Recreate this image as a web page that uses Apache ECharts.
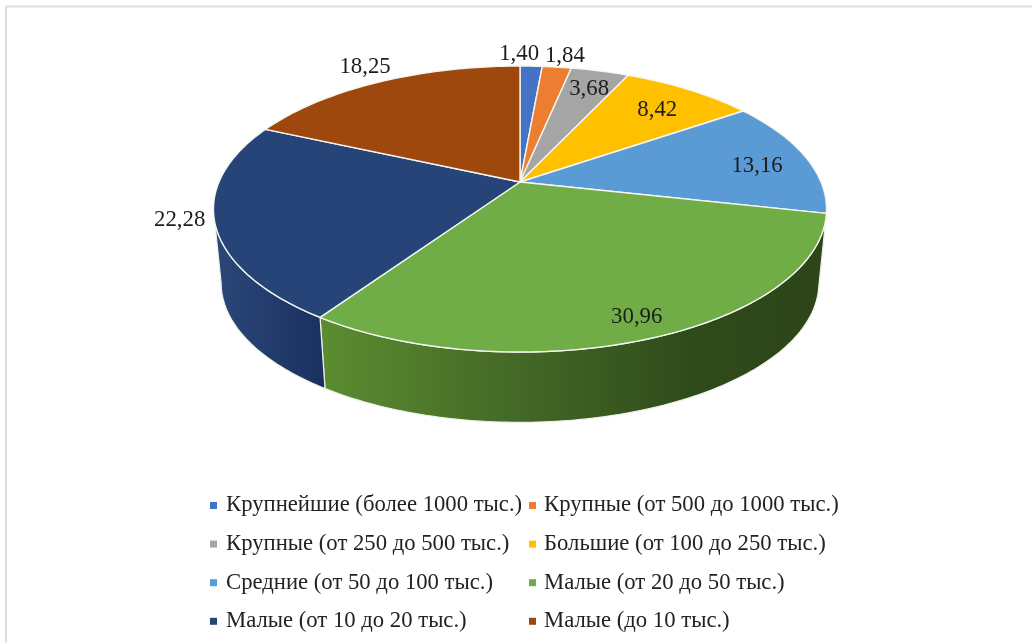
<!DOCTYPE html>
<html>
<head>
<meta charset="utf-8">
<style>html,body{margin:0;padding:0;background:#fff}#c{width:1032px;height:643px}</style>
<script src="https://cdn.jsdelivr.net/npm/echarts@6/dist/echarts.min.js"></script>
</head>
<body>
<div id="c"></div>
<script>
const categories = [
  'Крупнейшие (более 1000 тыс.)',
  'Крупные (от 500 до 1000 тыс.)',
  'Крупные (от 250 до 500 тыс.)',
  'Большие (от 100 до 250 тыс.)',
  'Средние (от 50 до 100 тыс.)',
  'Малые (от 20 до 50 тыс.)',
  'Малые (от 10 до 20 тыс.)',
  'Малые (до 10 тыс.)'
];
const values = [1.40, 1.84, 3.68, 8.42, 13.16, 30.96, 22.28, 18.25];
const labels = ['1,40', '1,84', '3,68', '8,42', '13,16', '30,96', '22,28', '18,25'];
const colors = ['#4472c4', '#ed7d31', '#a5a5a5', '#ffc000', '#5b9bd5', '#70ad47', '#264478', '#9e480e'];
// label offset from the point where each slice's bisector meets the rim
const labelShift = [[-12,-12],[8,-11],[-11,18],[-32,20],[-48,10],[-18,-20.5],[-35,-1.5],[-14,-15]];

const FONT = '"Liberation Serif", serif';
const total = values.reduce((a, b) => a + b, 0);
const D2R = Math.PI / 180;

// perspective projection of the disc: far rim is compressed, near rim stretched
const K = -0.189;
const topPlane = { cx: 520, cy: 182, ax: 301, ay: 137.9 };
const basePlane = { cx: 520, cy: 256.5, ax: 293.5, ay: 134.5 };
function project(plane, deg, r) {
  const x = r * Math.sin(deg * D2R), y = -r * Math.cos(deg * D2R);
  const d = 1 + K * y;
  return [plane.cx + plane.ax * x / d, plane.cy + plane.ay * y / d];
}
function arc(plane, a0, a1) {
  const pts = [], n = Math.max(2, Math.ceil(Math.abs(a1 - a0)));
  for (let i = 0; i <= n; i++) pts.push(project(plane, a0 + (a1 - a0) * i / n, 1));
  return pts;
}
// the visible wall lies between the two silhouette tangents
const wallFrom = 100.9, wallTo = 259.1;
const G = echarts.graphic.LinearGradient;
const greenWall = new G(325, 0, 820, 0, [
  { offset: 0, color: '#5b8c30' }, { offset: 0.35, color: '#466b27' },
  { offset: 0.75, color: '#2f4a1b' }, { offset: 1, color: '#2d4519' }
], true);
const navyWall = new G(218, 0, 325, 0, [
  { offset: 0, color: '#2a4778' }, { offset: 1, color: '#1a3060' }
], true);
const wallFill = { 4: '#2d4519', 5: greenWall, 6: navyWall };

function sliceSeries(i) {
  const before = values.slice(0, i).reduce((a, b) => a + b, 0);
  return {
    type: 'custom',
    name: categories[i],
    coordinateSystem: 'none',
    itemStyle: { color: colors[i] },
    silent: true,
    data: [[values[i]]],
    z: 2,
    clip: false,
    renderItem: function (params, api) {
      const a0 = before / total * 360;
      const a1 = (before + api.value(0)) / total * 360;
      const children = [];
      const w0 = Math.max(a0, wallFrom), w1 = Math.min(a1, wallTo);
      if (w1 > w0 && wallFill[i]) {
        const wall = arc(topPlane, w0, w1).concat(arc(basePlane, w0, w1).reverse());
        children.push({
          type: 'polygon', z2: 1,
          shape: { points: wall },
          style: { fill: wallFill[i], stroke: '#eef3ea', lineWidth: 1.2, lineJoin: 'round' }
        });
      }
      const top = [[topPlane.cx, topPlane.cy]].concat(arc(topPlane, a0, a1));
      children.push({
        type: 'polygon', z2: 2,
        shape: { points: top },
        style: { fill: colors[i], stroke: '#f4f6f0', lineWidth: 1.4, lineJoin: 'round' }
      });
      const rim = project(topPlane, (a0 + a1) / 2, 1);
      children.push({
        type: 'text', z2: 3,
        style: {
          x: rim[0] + labelShift[i][0], y: rim[1] + labelShift[i][1],
          text: labels[i], fontFamily: FONT, fontSize: 22.8,
          fill: '#1c1c1c', align: 'center', verticalAlign: 'middle'
        }
      });
      return { type: 'group', children: children };
    }
  };
}

const legendBase = {
  orient: 'vertical', top: 489, itemGap: 15.6, itemWidth: 7, itemHeight: 7, icon: 'rect',
  selectedMode: false,
  textStyle: { fontFamily: FONT, fontSize: 22.7, color: '#222', padding: [0, 0, 0, 4], height: 22, lineHeight: 22 }
};

const chart = echarts.init(document.getElementById('c'), null, { renderer: 'canvas' });
chart.setOption({
  animation: false,
  backgroundColor: '#fff',
  tooltip: { show: false },
  legend: [
    Object.assign({}, legendBase, { left: 205, data: categories.filter((_, i) => i % 2 === 0) }),
    Object.assign({}, legendBase, { left: 524, data: categories.filter((_, i) => i % 2 === 1),
      textStyle: Object.assign({}, legendBase.textStyle, { padding: [0, 0, 0, 3] }) })
  ],
  graphic: [
    { type: 'line', silent: true, shape: { x1: 6, y1: 6.5, x2: 1032, y2: 6.5 }, style: { stroke: '#dedede', lineWidth: 2 } },
    { type: 'line', silent: true, shape: { x1: 6, y1: 6, x2: 6, y2: 643 }, style: { stroke: '#dedede', lineWidth: 2 } }
  ],
  series: categories.map((_, i) => sliceSeries(i))
});
</script>
</body>
</html>
